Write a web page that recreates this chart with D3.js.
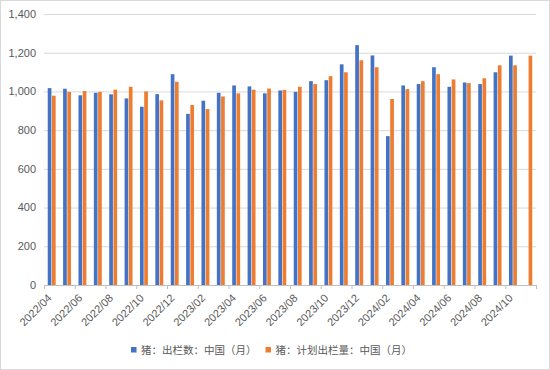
<!DOCTYPE html>
<html>
<head>
<meta charset="utf-8">
<script src="https://cdn.jsdelivr.net/npm/d3@7"></script>
<style>
  html, body { margin: 0; padding: 0; background: #fff; }
  svg { display: block; font-family: "Liberation Sans", Arial, "Noto Sans CJK SC", sans-serif; }
  .grid line { stroke: #d9d9d9; stroke-width: 1; }
  .grid path { display: none; }
  .tick-label { fill: #595959; font-size: 11px; }
  .legend text { fill: #595959; font-size: 10.5px; font-family: "Noto Sans CJK SC", sans-serif; }
</style>
</head>
<body>
<div class="chart-container"></div>
<script>
// months 2022/04 .. 2024/11
const months = [
    '2022/04', '2022/05', '2022/06', '2022/07', '2022/08', '2022/09', '2022/10', '2022/11', '2022/12',
    '2023/01', '2023/02', '2023/03', '2023/04', '2023/05', '2023/06', '2023/07', '2023/08', '2023/09',
    '2023/10', '2023/11', '2023/12', '2024/01', '2024/02', '2024/03', '2024/04', '2024/05', '2024/06',
    '2024/07', '2024/08', '2024/09', '2024/10', '2024/11'
];
// 猪：出栏数：中国（月）
const actual = [
    1017, 1014, 980, 993, 985, 964, 921, 986, 1089,
    884, 952, 993, 1031, 1026, 990, 1005, 998, 1053,
    1058, 1140, 1239, 1186, 769, 1031, 1038, 1125, 1024,
    1046, 1038, 1099, 1185, null
];
// 猪：计划出栏量：中国（月）
const planned = [
    978, 998, 1002, 998, 1009, 1024, 1000, 954, 1050,
    930, 909, 974, 990, 1009, 1015, 1008, 1024, 1038,
    1079, 1099, 1161, 1125, 961, 1012, 1053, 1089, 1062,
    1043, 1068, 1135, 1135, 1185
];
const seriesNames = ['猪：出栏数：中国（月）', '猪：计划出栏量：中国（月）'];
const colors = ['#4472c4', '#ed7d31'];
const yTicks = [0, 200, 400, 600, 800, 1000, 1200, 1400];

const W = 550, H = 370;
const margin = { top: 14, right: 14, bottom: 85, left: 44 };
const width = W - margin.left - margin.right;
const height = H - margin.top - margin.bottom;

const root = d3.select('.chart-container')
    .append('svg')
    .attr('width', W)
    .attr('height', H);

// outer frame
root.append('rect')
    .attr('x', 0.5).attr('y', 0.5)
    .attr('width', W - 1).attr('height', H - 1)
    .attr('fill', '#fff')
    .attr('stroke', '#d9d9d9');

const svg = root.append('g')
    .attr('transform', `translate(${margin.left},${margin.top})`);

const x = d3.scaleBand()
    .domain(months)
    .range([0, width])
    .paddingInner(0.485)
    .paddingOuter(0.2425);

const x1 = d3.scaleBand()
    .domain([0, 1])
    .range([0, x.bandwidth()])
    .paddingInner(0.13);

const y = d3.scaleLinear()
    .domain([0, 1400])
    .range([height, 0]);

// gridlines
svg.append('g')
    .attr('class', 'grid')
    .call(d3.axisLeft(y).tickValues(yTicks.slice(1)).tickSize(-width).tickFormat(''));

// y labels
svg.append('g')
    .selectAll('text')
    .data(yTicks)
    .enter().append('text')
    .attr('class', 'tick-label')
    .attr('x', -8)
    .attr('y', d => y(d))
    .attr('dy', '0.35em')
    .attr('text-anchor', 'end')
    .text(d => d3.format(',')(d));

// bars
const rows = months.map((m, i) => ({ month: m, values: [actual[i], planned[i]] }));
const groups = svg.selectAll('.group')
    .data(rows)
    .enter().append('g')
    .attr('transform', d => `translate(${x(d.month)},0)`);

groups.selectAll('rect')
    .data(d => d.values.map((v, k) => ({ k, v })).filter(e => e.v != null))
    .enter().append('rect')
    .attr('x', d => x1(d.k))
    .attr('y', d => y(d.v))
    .attr('width', x1.bandwidth())
    .attr('height', d => height - y(d.v))
    .attr('fill', d => colors[d.k]);

// x axis line and ticks
svg.append('line')
    .attr('x1', 0).attr('x2', width)
    .attr('y1', height + 0.5).attr('y2', height + 0.5)
    .attr('stroke', '#bfbfbf');

const step = x.step();
const bounds = d3.range(0, months.length + 1, 2).map(i => i * step);
svg.append('g')
    .selectAll('line')
    .data(bounds)
    .enter().append('line')
    .attr('x1', d => d + 0.5).attr('x2', d => d + 0.5)
    .attr('y1', height).attr('y2', height + 4)
    .attr('stroke', '#bfbfbf');

// x labels, every other month
svg.append('g')
    .selectAll('text')
    .data(months.filter((m, i) => i % 2 === 0))
    .enter().append('text')
    .attr('class', 'tick-label')
    .attr('text-anchor', 'end')
    .attr('transform', d => `translate(${x(d) + x.bandwidth() / 2 - 2},${height + 11}) rotate(-45)`)
    .attr('dy', '0.35em')
    .text(d => d);

// legend
const legend = root.append('g').attr('class', 'legend');
const legendX = [131, 265.5];
seriesNames.forEach((name, k) => {
    legend.append('rect')
        .attr('x', legendX[k]).attr('y', 347)
        .attr('width', 5.5).attr('height', 5.5)
        .attr('fill', colors[k]);
    legend.append('text')
        .attr('x', legendX[k] + 10)
        .attr('y', 350)
        .attr('dy', '0.36em')
        .text(name);
});
</script>
</body>
</html>
